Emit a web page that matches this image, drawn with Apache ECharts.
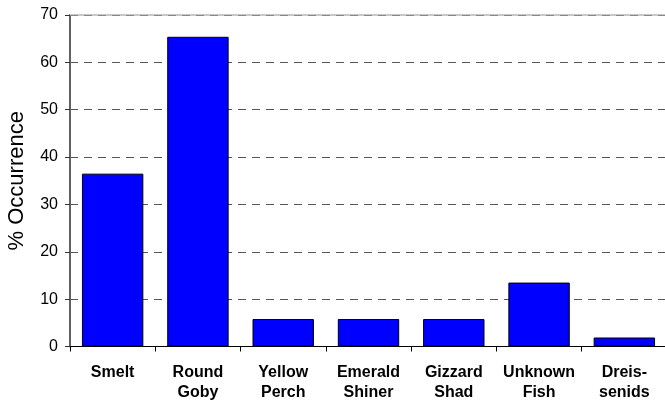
<!DOCTYPE html>
<html>
<head>
<meta charset="utf-8">
<script src="https://cdn.jsdelivr.net/npm/echarts@6/dist/echarts.min.js"></script>
<style>
html,body{margin:0;padding:0;background:#fff;}
#chart{width:665px;height:402px;}
</style>
</head>
<body>
<div id="chart"></div>
<script>
const categories = ["Smelt", "Round\nGoby", "Yellow\nPerch", "Emerald\nShiner", "Gizzard\nShad", "Unknown\nFish", "Dreis-\nsenids"];
const occurrence = [36.5, 65.4, 5.8, 5.8, 5.8, 13.5, 1.9];
const yTicks = [0, 10, 20, 30, 40, 50, 60, 70];
const yMax = yTicks[yTicks.length - 1];

const chart = echarts.init(document.getElementById('chart'));
chart.setOption({
  animation: false,
  backgroundColor: '#ffffff',
  grid: { left: 70, top: 15, width: 597, height: 331.5, containLabel: false, outerBoundsMode: 'none' },
  xAxis: {
    type: 'category',
    data: categories,
    boundaryGap: true,
    axisLine: { show: true, lineStyle: { color: '#000', width: 1 } },
    axisTick: { show: true, alignWithLabel: false, length: 5, lineStyle: { color: '#000' } },
    axisLabel: {
      interval: 0,
      margin: 16,
      fontFamily: 'Liberation Sans, Arial, sans-serif',
      fontWeight: 'bold',
      fontSize: 16,
      lineHeight: 20,
      color: '#000'
    },
    splitLine: { show: false }
  },
  yAxis: {
    type: 'value',
    min: yTicks[0],
    max: yMax,
    interval: 10,
    name: '% Occurrence',
    nameLocation: 'middle',
    nameGap: 42,
    nameTextStyle: { fontFamily: 'Liberation Sans, Arial, sans-serif', fontSize: 22, color: '#000' },
    axisLine: { show: true, lineStyle: { color: '#606060', width: 2 } },
    axisTick: { show: true, length: 5, lineStyle: { color: '#333' } },
    axisLabel: { margin: 12, fontFamily: 'Liberation Sans, Arial, sans-serif', fontSize: 16, color: '#000' },
    splitLine: { show: true, lineStyle: { color: '#555', width: 1, type: [8, 6] } }
  },
  series: [{
    type: 'bar',
    data: occurrence,
    barWidth: '72%',
    itemStyle: { color: '#0000ff', borderColor: '#000', borderWidth: 1 },
    markLine: {
      silent: true,
      symbol: 'none',
      label: { show: false },
      data: [
        { yAxis: yMax, lineStyle: { color: '#c8c8c8', width: 2, type: 'solid' } },
        { yAxis: yMax, lineStyle: { color: '#888', width: 1, type: [8, 6] } }
      ]
    }
  }]
});
</script>
</body>
</html>
